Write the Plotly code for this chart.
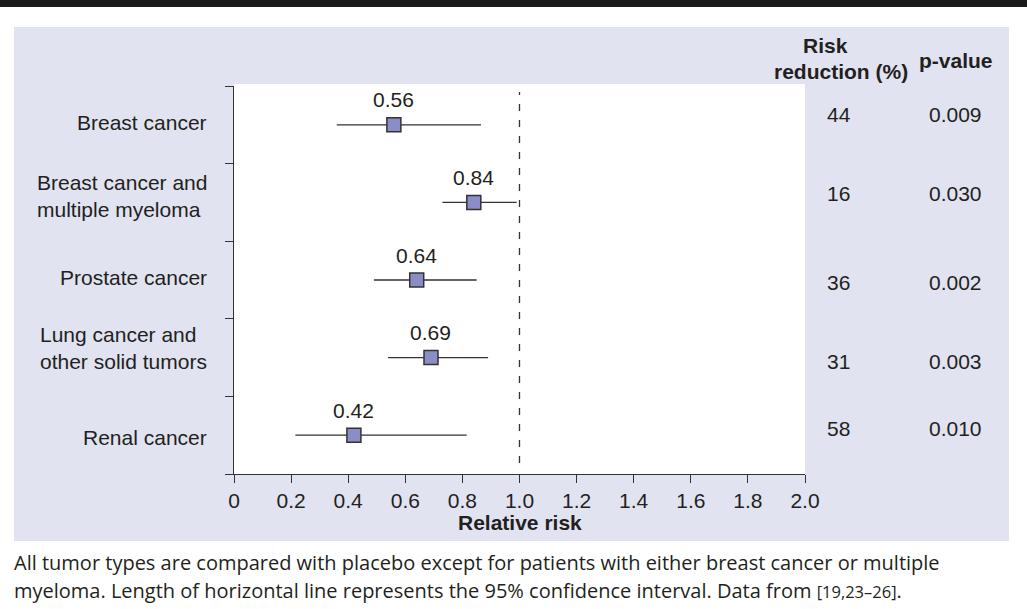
import plotly.graph_objects as go

# ---------------- data ----------------
categories = ["Breast cancer",
              "Breast cancer and<br>multiple myeloma",
              "Prostate cancer",
              "Lung cancer and<br>other solid tumors",
              "Renal cancer"]
relative_risk = [0.56, 0.84, 0.64, 0.69, 0.42]
ci_low = [0.36, 0.73, 0.49, 0.54, 0.215]
ci_high = [0.865, 0.99, 0.85, 0.89, 0.815]
risk_reduction = ["44", "16", "36", "31", "58"]
p_values = ["0.009", "0.030", "0.002", "0.003", "0.010"]
x_tick_vals = [0, 0.2, 0.4, 0.6, 0.8, 1.0, 1.2, 1.4, 1.6, 1.8, 2.0]
x_tick_text = ["0", "0.2", "0.4", "0.6", "0.8", "1.0", "1.2", "1.4", "1.6", "1.8", "2.0"]
reference_value = 1.0

# ---------------- layout geometry (pixels) ----------------
W, H = 1027, 609
PL, PR, PT, PB = 234, 805, 86, 474   # plot area edges


def px_x(px):
    return (px - PL) / (PR - PL)


def px_y(py):
    return (PB - py) / (PB - PT)


label_yshift = [2, 6, 3, 10, -2]
table_yshift = [10, 9, -2, -4, 7]

FONT = "Liberation Sans, Arial, sans-serif"
TXT = "#231f20"
AX = "#333333"
PANEL = "#e1e3f0"

rows = list(range(len(categories)))
err_plus = [h - v for h, v in zip(ci_high, relative_risk)]
err_minus = [v - l for v, l in zip(relative_risk, ci_low)]

fig = go.Figure()
fig.add_trace(go.Scatter(
    x=relative_risk, y=rows, mode="markers",
    marker=dict(symbol="square", size=14, color="#8b8dc6",
                line=dict(color=AX, width=1.5)),
    error_x=dict(type="data", symmetric=False, array=err_plus,
                 arrayminus=err_minus, width=0, thickness=1.3, color=AX),
    showlegend=False, hoverinfo="skip"))

shapes = [
    # lavender panel
    dict(type="rect", xref="paper", yref="paper", layer="below",
         x0=px_x(14), x1=px_x(1009), y0=px_y(541), y1=px_y(27),
         fillcolor=PANEL, line=dict(width=0)),
    # white plotting region
    dict(type="rect", xref="paper", yref="paper", layer="below",
         x0=0, x1=1, y0=0, y1=px_y(84),
         fillcolor="white", line=dict(width=0)),
    # black strip on top
    dict(type="rect", xref="paper", yref="paper", layer="above",
         x0=px_x(0), x1=px_x(W), y0=px_y(7), y1=px_y(0),
         fillcolor="#1a1a1a", line=dict(width=0)),
    # reference line at RR = 1
    dict(type="line", xref="x", yref="paper",
         x0=reference_value, x1=reference_value, y0=px_y(463), y1=px_y(92),
         line=dict(color=AX, width=1.3, dash="7px,9px")),
]

annotations = []
for i, name in enumerate(categories):
    annotations.append(dict(
        xref="paper", yref="y", x=0, y=i, xshift=-25, yshift=label_yshift[i],
        xanchor="right", yanchor="middle", align="left", text=name,
        showarrow=False, font=dict(family=FONT, size=21, color=TXT)))
    annotations.append(dict(
        xref="x", yref="y", x=relative_risk[i], y=i, yshift=25,
        xanchor="center", yanchor="middle", text=f"{relative_risk[i]:.2f}",
        showarrow=False, font=dict(family=FONT, size=21, color=TXT)))
    annotations.append(dict(
        xref="paper", yref="y", x=px_x(825), y=i, yshift=table_yshift[i],
        xanchor="left", yanchor="middle", text=risk_reduction[i],
        showarrow=False, font=dict(family=FONT, size=21, color=TXT)))
    annotations.append(dict(
        xref="paper", yref="y", x=px_x(955), y=i, yshift=table_yshift[i],
        xanchor="center", yanchor="middle", text=p_values[i],
        showarrow=False, font=dict(family=FONT, size=21, color=TXT)))

# headers
annotations += [
    dict(xref="paper", yref="paper", x=px_x(825), y=px_y(46), text="<b>Risk</b>",
         xanchor="center", yanchor="middle", showarrow=False,
         font=dict(family=FONT, size=21, color=TXT)),
    dict(xref="paper", yref="paper", x=px_x(841), y=px_y(72), text="<b>reduction (%)</b>",
         xanchor="center", yanchor="middle", showarrow=False,
         font=dict(family=FONT, size=21, color=TXT)),
    dict(xref="paper", yref="paper", x=px_x(956), y=px_y(60), text="<b>p-value</b>",
         xanchor="center", yanchor="middle", showarrow=False,
         font=dict(family=FONT, size=21, color=TXT)),
    dict(xref="paper", yref="paper", x=0.5, y=px_y(522), text="<b>Relative risk</b>",
         xanchor="center", yanchor="middle", showarrow=False,
         font=dict(family=FONT, size=21, color=TXT)),
    # caption
    dict(xref="paper", yref="paper", x=px_x(12), y=px_y(562),
         text="All tumor types are compared with placebo except for patients with either breast cancer or multiple",
         xanchor="left", yanchor="middle", showarrow=False,
         font=dict(family="Open Sans, sans-serif", size=20, color=TXT)),
    dict(xref="paper", yref="paper", x=px_x(12), y=px_y(590),
         text="myeloma. Length of horizontal line represents the 95% confidence interval. Data from "
              "<span style='font-size:16.5px'>[19,23–26]</span>.",
         xanchor="left", yanchor="middle", showarrow=False,
         font=dict(family="Open Sans, sans-serif", size=20, color=TXT)),
]

boundaries = [i - 0.5 for i in range(len(categories) + 1)]

fig.update_layout(
    width=W, height=H, autosize=False,
    margin=dict(l=PL, r=W - PR, t=PT, b=H - PB, pad=0),
    paper_bgcolor="white", plot_bgcolor="rgba(0,0,0,0)",
    shapes=shapes, annotations=annotations,
    xaxis=dict(range=[0, 2], tickmode="array", tickvals=x_tick_vals, ticktext=x_tick_text,
               ticks="outside", ticklen=8, tickwidth=1.3, tickcolor=AX,
               showline=True, linecolor=AX, linewidth=1.3, showgrid=False, zeroline=False,
               tickfont=dict(family=FONT, size=21, color=TXT), fixedrange=True),
    yaxis=dict(range=[len(categories) - 0.5, -0.5], tickmode="array", tickvals=boundaries,
               ticktext=[""] * len(boundaries), ticks="outside", ticklen=8, tickwidth=1.3,
               tickcolor=AX, showline=True, linecolor=AX, linewidth=1.3,
               showgrid=False, zeroline=False, fixedrange=True),
)

fig.write_html("out.html")
